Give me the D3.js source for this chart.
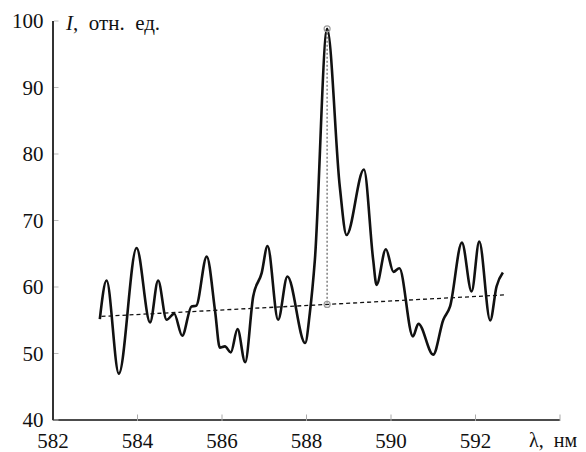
<!DOCTYPE html>
<html>
<head>
<meta charset="utf-8">
<script src="https://cdn.jsdelivr.net/npm/d3@7"></script>
<style>
  html, body { margin: 0; padding: 0; background: #fff; }
</style>
</head>
<body>
<svg id="chart" width="586" height="452"></svg>
<script>
// длина волны, нм
const wavelength = [583.12, 583.28, 583.57, 583.99, 584.31, 584.50, 584.70, 584.88, 585.07, 585.29,
    585.40, 585.65, 585.85, 585.96, 586.08, 586.22, 586.38, 586.56, 586.75, 586.95,
    587.09, 587.34, 587.56, 587.98, 588.09, 588.21, 588.50, 588.80, 588.96, 589.37,
    589.59, 589.67, 589.89, 590.07, 590.21, 590.53, 590.66, 591.01, 591.25, 591.41,
    591.69, 591.92, 592.10, 592.36, 592.51, 592.66];
// интенсивность, отн. ед.
const intensity = [55.1, 60.9, 46.9, 65.8, 54.6, 60.9, 55.0, 55.9, 52.6, 57.0,
    57.1, 64.5, 56.2, 50.8, 51.0, 50.1, 53.6, 48.6, 58.5, 62.0,
    66.1, 55.0, 61.5, 51.5, 56.0, 64.0, 98.75, 75.0, 67.75, 77.6,
    64.0, 60.25, 65.6, 62.2, 62.75, 52.5, 54.4, 49.75, 55.0, 57.0,
    66.6, 59.25, 66.75, 54.9, 60.0, 62.1];
// фоновая линия
const trendX = [583.16, 592.75];
const trendY = [55.5, 58.75];
// пик
const peakX = [588.5, 588.5];
const peakY = [98.75, 57.3];

const xTicks = [582, 584, 586, 588, 590, 592, 594];
const yTicks = [40, 50, 60, 70, 80, 90, 100];

const svg = d3.select("#chart");
const fontSize = 21;
const fontFamily = "'Liberation Serif', 'DejaVu Serif', 'Times New Roman', serif";

const x = d3.scaleLinear().domain([582, 594]).range([52.5, 559.5]);
const y = d3.scaleLinear().domain([40, 100]).range([419.5, 20.5]);

// оси
const xAxis = svg.append("g")
    .attr("transform", `translate(0,${y(40)})`)
    .call(d3.axisBottom(x).tickValues(xTicks).tickSize(0).tickFormat(d => d === 594 ? "" : d));
xAxis.select(".domain").attr("stroke", "#111").attr("stroke-width", 1.6);
xAxis.selectAll(".tick text")
    .attr("fill", "#111")
    .attr("y", 14)
    .attr("dy", "0.71em");
xAxis.selectAll(".tick").append("line")
    .attr("y1", -5).attr("y2", 1.5)
    .attr("stroke", "#aaa").attr("stroke-width", 1);

const yAxis = svg.append("g")
    .attr("transform", `translate(${x(582)},0)`)
    .call(d3.axisLeft(y).tickValues(yTicks).tickSize(0));
yAxis.select(".domain").attr("stroke", "#333").attr("stroke-width", 2);
yAxis.selectAll(".tick text")
    .attr("fill", "#111")
    .attr("x", -9)
    .attr("dy", "0.34em");
yAxis.selectAll(".tick").append("line")
    .attr("x1", 1.5).attr("x2", 6)
    .attr("stroke", "#bbb").attr("stroke-width", 1);

// d3 ставит sans-serif на группу осей, поэтому шрифт задаём прямо на текстах
svg.selectAll(".tick text")
    .style("font-family", fontFamily)
    .style("font-size", fontSize + "px");

// подписи осей
const yLabel = svg.append("text")
    .attr("x", 66)
    .attr("y", 30)
    .style("font-family", fontFamily)
    .style("font-size", fontSize + "px")
    .attr("fill", "#111");
yLabel.append("tspan").style("font-style", "italic").text("I");
yLabel.append("tspan").text(",\u00a0 отн.\u00a0 ед.");

svg.append("text")
    .attr("x", 529)
    .attr("y", 447)
    .style("font-family", fontFamily)
    .style("font-size", "20px")
    .attr("fill", "#111")
    .text("λ,\u00a0 нм");

// фон
svg.append("line")
    .attr("x1", x(trendX[0])).attr("y1", y(trendY[0]))
    .attr("x2", x(trendX[1])).attr("y2", y(trendY[1]))
    .attr("stroke", "#111")
    .attr("stroke-width", 1.3)
    .attr("stroke-dasharray", "4,3");

// высота пика
svg.append("line")
    .attr("x1", x(peakX[0])).attr("y1", y(peakY[0]))
    .attr("x2", x(peakX[1])).attr("y2", y(peakY[1]))
    .attr("stroke", "#888")
    .attr("stroke-width", 1.6)
    .attr("stroke-dasharray", "2,2");

// спектр
const data = wavelength.map((d, i) => ({ x: d, y: intensity[i] }));
const line = d3.line()
    .x(d => x(d.x))
    .y(d => y(d.y))
    .curve(d3.curveMonotoneX);
svg.append("path")
    .datum(data)
    .attr("fill", "none")
    .attr("stroke", "#111")
    .attr("stroke-width", 2.6)
    .attr("stroke-linejoin", "round")
    .attr("d", line);

svg.selectAll(".peakPoint")
    .data(peakX)
    .enter().append("circle")
    .attr("class", "peakPoint")
    .attr("cx", d => x(d))
    .attr("cy", (d, i) => y(peakY[i]))
    .attr("r", 3)
    .attr("fill", "none")
    .attr("stroke", "#999")
    .attr("stroke-width", 1.2);
</script>
</body>
</html>
